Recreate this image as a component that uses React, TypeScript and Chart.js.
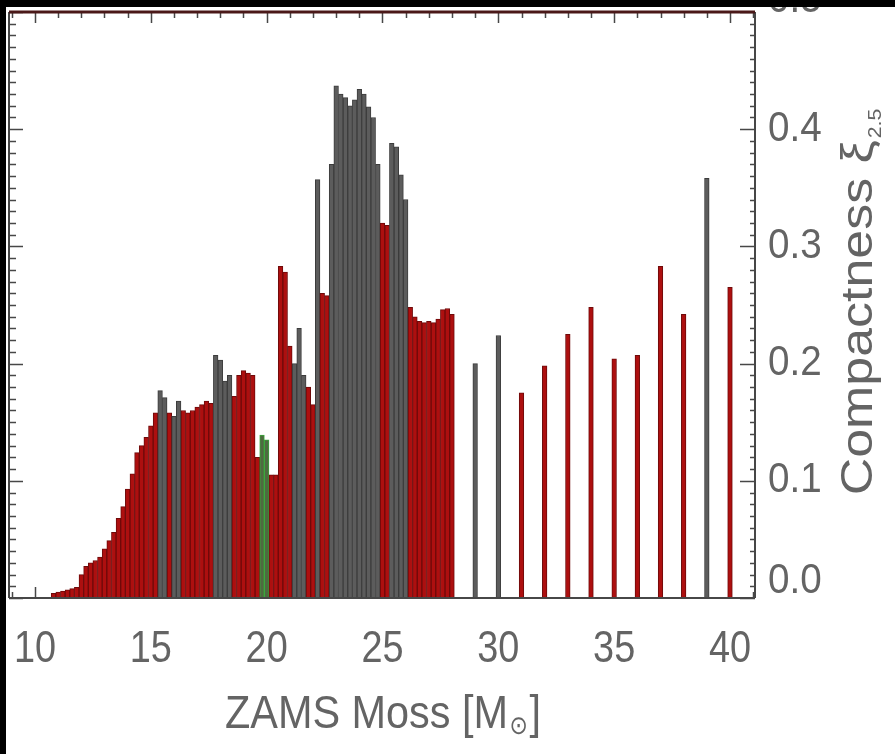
import React, { useEffect, useRef } from "react";
import { Chart, registerables } from "chart.js";

Chart.register(...registerables);

const W = 895;
const H = 754;

// ZAMS masses (M_sun)
const masses = [
  10.8, 11.0, 11.2, 11.4, 11.6, 11.8, 12.0, 12.2, 12.4, 12.6, 12.8, 13.0, 13.2, 13.4, 13.6, 13.8,
  14.0, 14.2, 14.4, 14.6, 14.8, 15.0, 15.2, 15.4, 15.6, 15.8, 16.0, 16.2, 16.4, 16.6, 16.8, 17.0,
  17.2, 17.4, 17.6, 17.8, 18.0, 18.2, 18.4, 18.6, 18.8, 19.0, 19.2, 19.4, 19.6, 19.8, 20.0, 20.2,
  20.4, 20.6, 20.8, 21.0, 21.2, 21.4, 21.6, 21.8, 22.0, 22.2, 22.4, 22.6, 22.8, 23.0, 23.2, 23.4,
  23.6, 23.8, 24.0, 24.2, 24.4, 24.6, 24.8, 25.0, 25.2, 25.4, 25.6, 25.8, 26.0, 26.2, 26.4, 26.6,
  26.8, 27.0, 27.2, 27.4, 27.6, 27.8, 28.0,
  29, 30, 31, 32, 33, 34, 35, 36, 37, 38, 39, 40,
];

// compactness xi_2.5
const compactness = [
  0.004, 0.005, 0.006, 0.007, 0.008, 0.009, 0.020, 0.027, 0.030, 0.032, 0.035, 0.042, 0.049, 0.056, 0.068, 0.078,
  0.093, 0.106, 0.124, 0.130, 0.137, 0.147, 0.158, 0.177, 0.171, 0.158, 0.155, 0.168, 0.160, 0.158, 0.160, 0.163,
  0.165, 0.168, 0.166, 0.207, 0.203, 0.185, 0.190, 0.172, 0.190, 0.194, 0.192, 0.190, 0.120, 0.139, 0.135, 0.105,
  0.105, 0.283, 0.278, 0.215, 0.200, 0.230, 0.190, 0.180, 0.165, 0.357, 0.260, 0.258, 0.370, 0.437, 0.430, 0.427,
  0.420, 0.425, 0.434, 0.430, 0.419, 0.410, 0.370, 0.320, 0.318, 0.388, 0.385, 0.361, 0.340, 0.248, 0.240, 0.236,
  0.235, 0.236, 0.235, 0.238, 0.246, 0.247, 0.242,
  0.200, 0.224, 0.175, 0.198, 0.225, 0.248, 0.204, 0.207, 0.283, 0.242, 0.358, 0.265,
];

// outcome: E = explosion (red), B = black hole (grey), F = fallback (green)
const outcomes = [
  "E", "E", "E", "E", "E", "E", "E", "E", "E", "E", "E", "E", "E", "E", "E", "E",
  "E", "E", "E", "E", "E", "E", "E", "B", "B", "E", "B", "B", "E", "E", "E", "E",
  "E", "E", "E", "B", "B", "B", "B", "E", "E", "E", "E", "E", "E", "F", "F", "E",
  "E", "E", "E", "E", "B", "B", "B", "E", "E", "B", "E", "E", "B", "B", "B", "B",
  "B", "B", "B", "B", "B", "B", "B", "E", "E", "B", "B", "B", "B", "E", "E", "E",
  "E", "E", "E", "E", "E", "E", "E",
  "B", "B", "E", "E", "E", "E", "E", "E", "E", "E", "B", "E",
];

const xTickValues = [10, 15, 20, 25, 30, 35, 40];
const xTickLabels = ["10", "15", "20", "25", "30", "35", "40"];
const yTickValues = [0.0, 0.1, 0.2, 0.3, 0.4, 0.5];
const yTickLabels = ["0.0", "0.1", "0.2", "0.3", "0.4", "0.5"];

const xTitle = "ZAMS Moss [M";
const xTitleSub = "\u2299";
const xTitleEnd = "]";
const yTitle = "Compactness \u03BE";
const yTitleSub = "2.5";

const FILL: Record<string, string> = { E: "#ad0f0f", B: "#5c5c5c", F: "#4e6a40" };
const EDGE: Record<string, string> = { E: "#6e0a0a", B: "#3c3c3c", F: "#3aa83a" };

const FONT = '"Liberation Sans", Arial, sans-serif';
const TEXT = "#646464";
const AXIS = "#474747";

// draws text with a horizontal stretch factor sx (to mimic the plot font proportions)
function drawText(ctx: CanvasRenderingContext2D, text: string, x: number, y: number, sx: number, align: "left" | "center") {
  const w = ctx.measureText(text).width * sx;
  ctx.save();
  ctx.translate(align === "center" ? x - w / 2 : x, y);
  ctx.scale(sx, 1);
  ctx.textAlign = "left";
  ctx.fillText(text, 0, 0);
  ctx.restore();
  return w;
}

const decorPlugin = {
  id: "decor",
  beforeDraw(chart: any) {
    const ctx = chart.ctx;
    ctx.save();
    ctx.fillStyle = "#ffffff";
    ctx.fillRect(0, 0, W, H);
    ctx.restore();
  },
  beforeDatasetsDraw(chart: any) {
    const ctx = chart.ctx;
    const { left, right, top, bottom } = chart.chartArea;
    const xs = chart.scales.x;
    const ys = chart.scales.y;
    ctx.save();
    ctx.strokeStyle = AXIS;
    ctx.lineWidth = 1.5;
    ctx.beginPath();
    for (let v = 9; v <= 41; v++) {
      const px = Math.round(xs.getPixelForValue(v)) + 0.5;
      if (px < left || px > right) continue;
      const major = v % 5 === 0;
      const lt = major ? 11 : 6;
      ctx.moveTo(px, top);
      ctx.lineTo(px, top + lt);
      ctx.moveTo(px, bottom);
      ctx.lineTo(px, bottom - lt);
    }
    for (let i = 0; i <= 50; i++) {
      const py = Math.round(ys.getPixelForValue(i / 100)) + 0.5;
      const major = i % 10 === 0;
      ctx.moveTo(left, py);
      ctx.lineTo(left + (major ? 14 : 7), py);
      ctx.moveTo(right, py);
      ctx.lineTo(right - (major ? 15 : 5), py);
    }
    ctx.stroke();
    ctx.restore();
  },
  afterDatasetsDraw(chart: any) {
    const ctx = chart.ctx as CanvasRenderingContext2D;
    const { left, right, top, bottom } = chart.chartArea;
    const xs = chart.scales.x;
    const ys = chart.scales.y;
    ctx.save();
    // frame
    ctx.strokeStyle = AXIS;
    ctx.lineWidth = 2;
    ctx.beginPath();
    ctx.moveTo(left, top);
    ctx.lineTo(left, bottom);
    ctx.moveTo(right, top);
    ctx.lineTo(right, bottom);
    ctx.moveTo(left, bottom);
    ctx.lineTo(right, bottom);
    ctx.stroke();
    ctx.strokeStyle = "#4a1818";
    ctx.lineWidth = 3;
    ctx.beginPath();
    ctx.moveTo(left, top);
    ctx.lineTo(right, top);
    ctx.stroke();

    // x tick labels
    ctx.fillStyle = TEXT;
    ctx.font = `44px ${FONT}`;
    ctx.textBaseline = "middle";
    xTickValues.forEach((v, i) => {
      drawText(ctx, xTickLabels[i], xs.getPixelForValue(v), 650, 0.86, "center");
    });

    // y tick labels (right)
    ctx.font = `42px ${FONT}`;
    yTickValues.forEach((v, i) => {
      let cy = ys.getPixelForValue(v);
      if (i === 0) cy = bottom - 17;
      if (i === yTickValues.length - 1) cy = top - 12;
      drawText(ctx, yTickLabels[i], right + 13, cy, 0.92, "left");
    });

    // x title with subscript sun symbol
    ctx.textBaseline = "alphabetic";
    const sxT = 0.9;
    const mainFont = `46px ${FONT}`;
    const subFont = `26px "DejaVu Sans", sans-serif`;
    ctx.font = mainFont;
    const w1 = ctx.measureText(xTitle).width * sxT;
    const w3 = ctx.measureText(xTitleEnd).width * sxT;
    ctx.font = subFont;
    const w2 = ctx.measureText(xTitleSub).width * 0.85;
    let tx = 383 - (w1 + w2 + w3 + 3) / 2;
    const base = 728;
    ctx.font = mainFont;
    drawText(ctx, xTitle, tx, base, sxT, "left");
    tx += w1 + 1.5;
    ctx.font = subFont;
    drawText(ctx, xTitleSub, tx, base + 6, 0.85, "left");
    tx += w2 + 1.5;
    ctx.font = mainFont;
    drawText(ctx, xTitleEnd, tx, base, sxT, "left");

    // right title, rotated
    ctx.save();
    const sxR = 1.18;
    const rMain = `44px ${FONT}`;
    const rSub = `18px ${FONT}`;
    ctx.font = rMain;
    const rw1 = ctx.measureText(yTitle).width * sxR;
    ctx.font = rSub;
    const rw2 = ctx.measureText(yTitleSub).width * sxR;
    const startY = 302 + (rw1 + rw2 + 2) / 2;
    ctx.translate(872, startY);
    ctx.rotate(-Math.PI / 2);
    ctx.font = rMain;
    drawText(ctx, yTitle, 0, 0, sxR, "left");
    ctx.font = rSub;
    drawText(ctx, yTitleSub, rw1 + 2, 9, sxR, "left");
    ctx.restore();

    // black crop edges
    ctx.fillStyle = "#000";
    ctx.fillRect(0, 0, W, 7);
    ctx.fillRect(0, 0, 6, H);
    ctx.restore();
  },
};

export default function App() {
  const canvasRef = useRef<HTMLCanvasElement | null>(null);

  useEffect(() => {
    document.body.style.margin = "0";
    const canvas = canvasRef.current;
    if (!canvas) return;
    const points = masses.map((m, i) => ({ x: m, y: compactness[i] }));
    const chart = new Chart(canvas, {
      type: "bar",
      data: {
        datasets: [
          {
            data: points as any,
            backgroundColor: outcomes.map((o) => FILL[o]),
            borderColor: outcomes.map((o) => EDGE[o]),
            borderWidth: 1,
            barPercentage: 1,
            categoryPercentage: 1,
            grouped: false,
          } as any,
        ],
      },
      options: {
        responsive: false,
        animation: false,
        devicePixelRatio: 1,
        layout: { padding: { left: 9, right: W - 755, top: 12, bottom: H - 598 } },
        plugins: { legend: { display: false }, tooltip: { enabled: false } },
        scales: {
          x: {
            type: "linear",
            min: 10 - 26 / 23.167,
            max: 40 + 25 / 23.167,
            offset: false,
            display: false,
          },
          y: {
            type: "linear",
            position: "right",
            min: 0,
            max: 0.5,
            display: false,
          },
        },
      },
      plugins: [decorPlugin],
    });
    return () => chart.destroy();
  }, []);

  return (
    <div style={{ position: "absolute", left: 0, top: 0, width: W, height: H, background: "#fff" }}>
      <canvas ref={canvasRef} width={W} height={H} style={{ display: "block" }} />
    </div>
  );
}
